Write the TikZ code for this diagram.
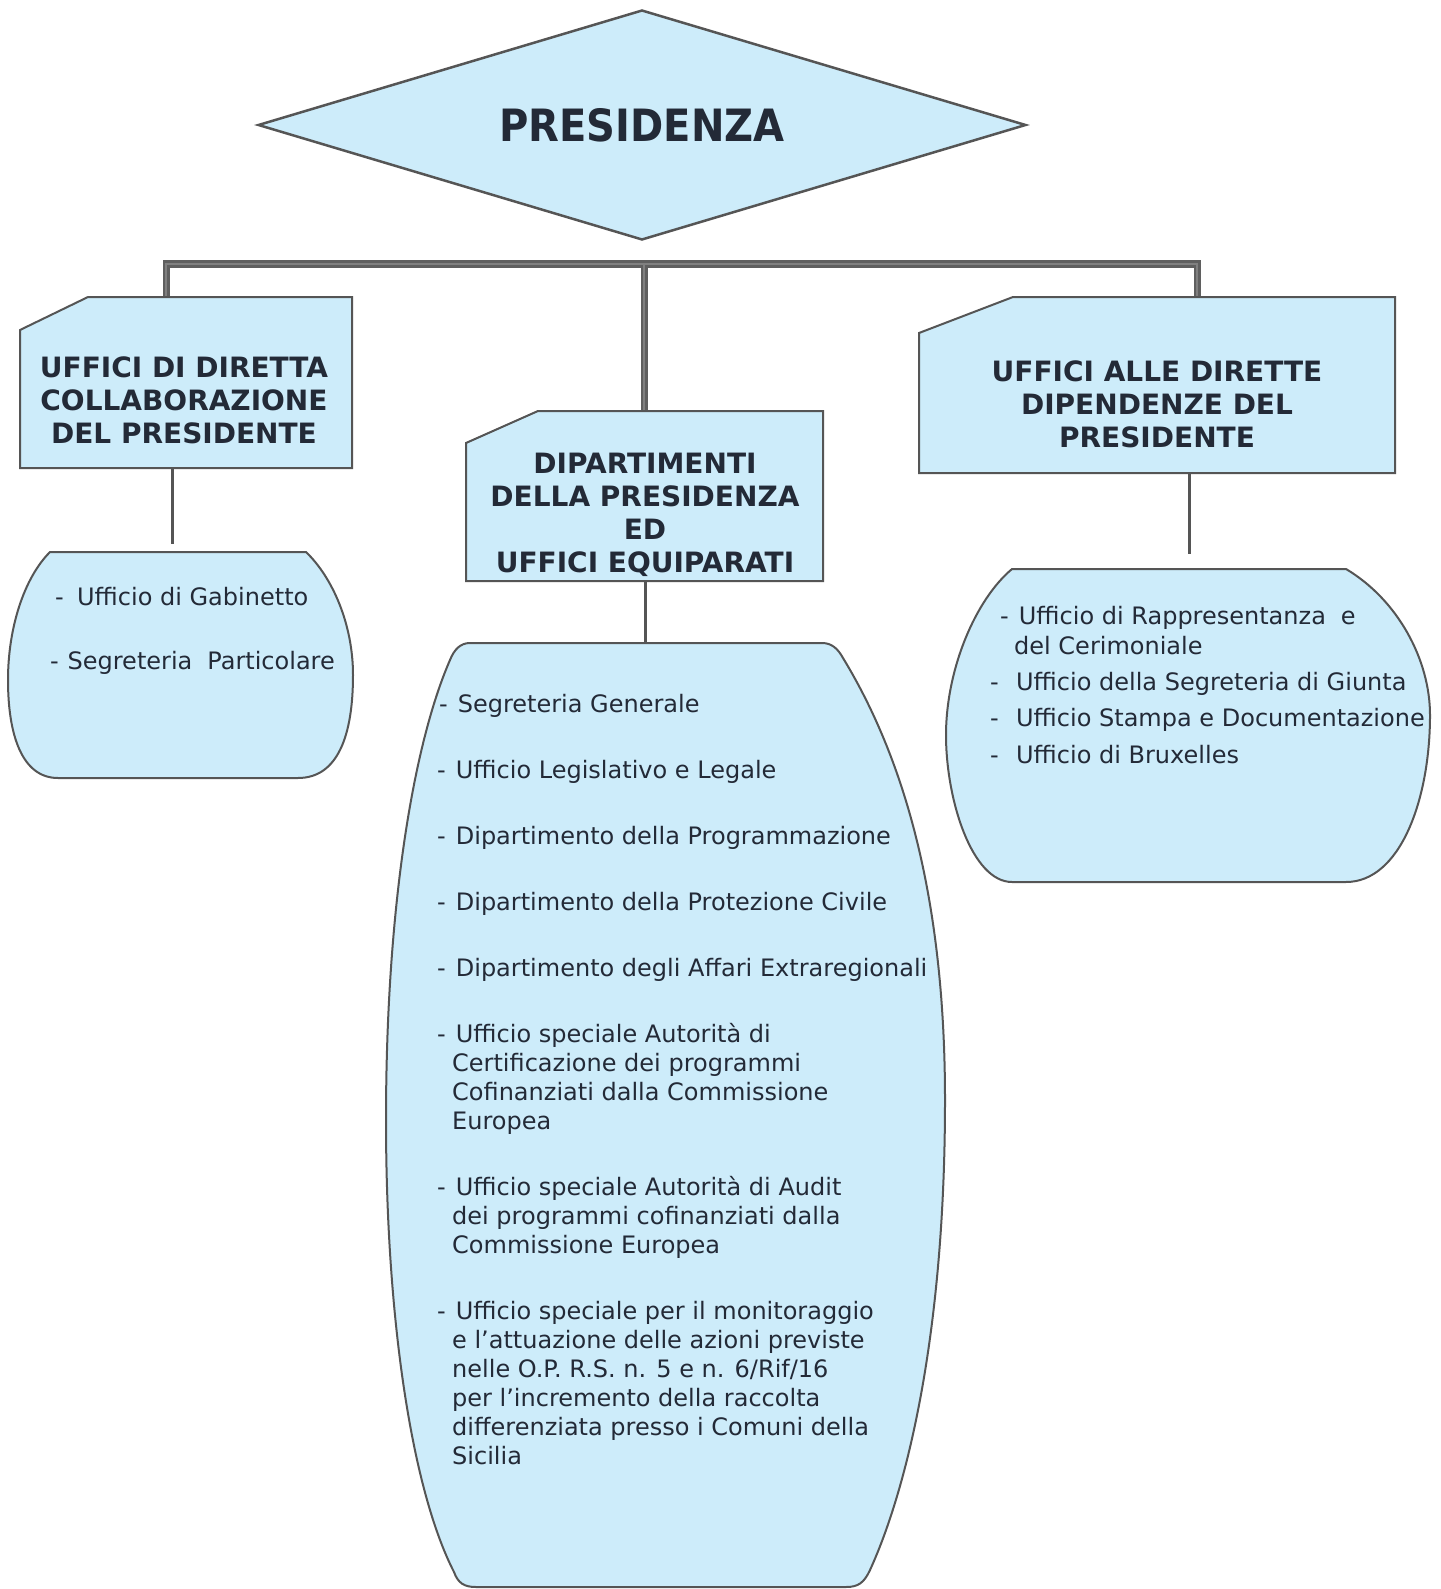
\documentclass[tikz,border=0pt]{standalone}
\usepackage{fontspec}
\setmainfont{DejaVu Sans}
\newfontfamily\titlefont[FakeStretch=0.9]{DejaVu Sans}
\usetikzlibrary{shapes.geometric}
\definecolor{boxfill}{RGB}{205,236,250}
\definecolor{edge}{RGB}{85,85,85}
\definecolor{ink}{RGB}{35,42,55}
\definecolor{barout}{RGB}{95,95,95}
\definecolor{barin}{RGB}{128,128,128}
\begin{document}
\begin{tikzpicture}[x=1pt,y=-1pt,line join=miter,
  boxstyle/.style={draw=edge,line width=2pt,fill=boxfill},
  hdr/.style={font=\bfseries\fontsize{28}{33}\selectfont,text=ink,align=center,inner sep=0pt},
  itm/.style={font=\fontsize{24}{29}\selectfont,text=ink,anchor=base west,inner sep=0pt},
  barouter/.style={draw=barout,line width=7pt},
  barinner/.style={draw=barin,line width=2pt},
  link/.style={draw=edge,line width=3pt}]
\useasboundingbox (0,0) rectangle (1440,1589);
\fill[white] (0,0) rectangle (1440,1589);

% top diamond
\node[diamond,draw=edge,line width=2.5pt,fill=boxfill,minimum width=768pt,minimum height=230pt,
  aspect=3.34,inner sep=0pt,text=ink,font=\titlefont\bfseries\fontsize{44.5}{50}\selectfont]
  (pres) at (642,125) {PRESIDENZA};

% connector coordinates
\coordinate (barL) at (166,297);
\coordinate (barLc) at (166,264);
\coordinate (barC) at (644,264);
\coordinate (barRc) at (1197,264);
\coordinate (barR) at (1197,297);
\coordinate (midTop) at (644,411);

\draw[barouter] (barL) -- (barLc) -- (barC) -- (barRc) -- (barR);
\draw[barouter] (barC) -- (midTop);
\draw[barinner] (barL) -- (barLc) -- (barC) -- (barRc) -- (barR);
\draw[barinner] (barC) -- (midTop);

% header boxes
\draw[boxstyle] (88,297) -- (352,297) -- (352,468) -- (20,468) -- (20,330) -- cycle;
\draw[boxstyle] (538,411) -- (823,411) -- (823,581) -- (466,581) -- (466,443) -- cycle;
\draw[boxstyle] (1013,297) -- (1395,297) -- (1395,473) -- (919,473) -- (919,333) -- cycle;

\node[hdr] (h1) at (184,400) {UFFICI DI DIRETTA\\COLLABORAZIONE\\DEL PRESIDENTE};
\node[hdr] (h2) at (645,515) {DIPARTIMENTI\\DELLA PRESIDENZA\\ED\\UFFICI EQUIPARATI};
\node[hdr] (h3) at (1157,404) {UFFICI ALLE DIRETTE\\DIPENDENZE DEL\\PRESIDENTE};

% links to lists
\coordinate (l1a) at (172,468); \coordinate (l1b) at (172,544);
\coordinate (l2a) at (645,581); \coordinate (l2b) at (645,643);
\coordinate (l3a) at (1189,473); \coordinate (l3b) at (1189,554);
\draw[link] (l1a) -- (l1b);
\draw[link] (l2a) -- (l2b);
\draw[link] (l3a) -- (l3b);

% list shapes
\draw[boxstyle] (50,552) -- (306,552) .. controls (333,578) and (353,625) .. (353,675)
  .. controls (353,735) and (338,778) .. (298,778) -- (58,778)
  .. controls (22,778) and (8,735) .. (8,680) .. controls (8,628) and (24,578) .. (50,552) -- cycle;

\draw[boxstyle] (1012,569) -- (1346,569) .. controls (1398,600) and (1430,660) .. (1430,715)
  .. controls (1430,800) and (1400,882) .. (1346,882) -- (1012,882)
  .. controls (972,882) and (946,800) .. (946,735) .. controls (946,670) and (975,600) .. (1012,569) -- cycle;

\draw[boxstyle] (470,643) -- (822,643) .. controls (832,643) and (838,649) .. (843,658)
  .. controls (905,760) and (945,900) .. (945,1100)
  .. controls (945,1350) and (902,1500) .. (870,1570)
  .. controls (864,1583) and (858,1587) .. (846,1587) -- (476,1587)
  .. controls (464,1587) and (458,1583) .. (454,1572)
  .. controls (412,1490) and (386,1320) .. (386,1120)
  .. controls (386,900) and (415,740) .. (450,660)
  .. controls (454,650) and (460,643) .. (470,643) -- cycle;

% left list
\node[itm] (a1) at (55,605) {-\hspace{13.3pt}Ufficio di Gabinetto};
\node[itm] (a2) at (50,669) {-\hspace{8.8pt}Segreteria\hspace{15pt}Particolare};

% middle list
\node[itm] (b1) at (439,712) {-\hspace{10pt}Segreteria Generale};
\node[itm] (b2) at (437,778) {-\hspace{10pt}Ufficio Legislativo e Legale};
\node[itm] (b3) at (437,844) {-\hspace{10pt}Dipartimento della Programmazione};
\node[itm] (b4) at (437,910) {-\hspace{10pt}Dipartimento della Protezione Civile};
\node[itm] (b5) at (437,976) {-\hspace{10pt}Dipartimento degli Affari Extraregionali};
\node[itm] (b6) at (437,1042) {-\hspace{10pt}Ufficio speciale Autorità di};
\node[itm] (b6b) at (452,1071) {Certificazione dei programmi};
\node[itm] (b6c) at (452,1100) {Cofinanziati dalla Commissione};
\node[itm] (b6d) at (452,1129) {Europea};
\node[itm] (b7) at (437,1195) {-\hspace{10pt}Ufficio speciale Autorità di Audit};
\node[itm] (b7b) at (452,1224) {dei programmi cofinanziati dalla};
\node[itm] (b7c) at (452,1253) {Commissione Europea};
\node[itm] (b8) at (437,1319) {-\hspace{10pt}Ufficio speciale per il monitoraggio};
\node[itm] (b8b) at (452,1348) {e l'attuazione delle azioni previste};
\node[itm] (b8c) at (452,1377) {nelle O.P. R.S. n. 5 e n. 6/Rif/16};
\node[itm] (b8d) at (452,1406) {per l'incremento della raccolta};
\node[itm] (b8e) at (452,1435) {differenziata presso i Comuni della};
\node[itm] (b8f) at (452,1464) {Sicilia};

% right list
\node[itm] (c1) at (1000,624) {-\hspace{10pt}Ufficio di Rappresentanza\hspace{15pt}e};
\node[itm] (c1b) at (1014,654) {del Cerimoniale};
\node[itm] (c2) at (990,690) {-\hspace{17.3pt}Ufficio della Segreteria di Giunta};
\node[itm] (c3) at (990,726) {-\hspace{17.3pt}Ufficio Stampa e Documentazione};
\node[itm] (c4) at (990,763) {-\hspace{17.3pt}Ufficio di Bruxelles};
\end{tikzpicture}
\end{document}
